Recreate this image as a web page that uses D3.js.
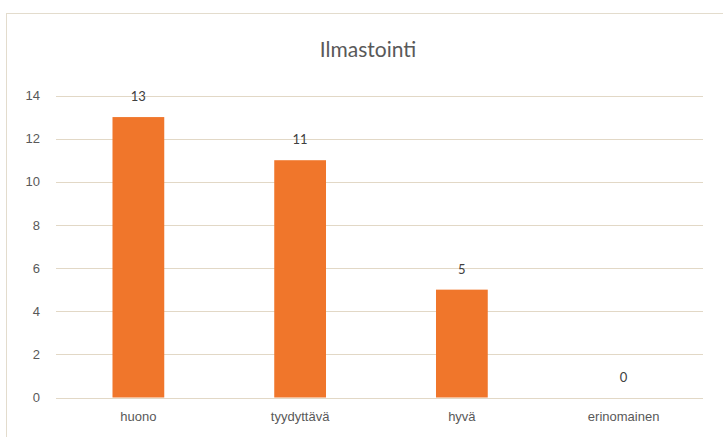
<!DOCTYPE html>
<html>
<head>
<meta charset="utf-8">
<script src="https://cdn.jsdelivr.net/npm/d3@7"></script>
<style>
  html, body { margin: 0; padding: 0; background: #fff; }
  svg { display: block; font-family: Lato, "Open Sans", sans-serif; }
</style>
</head>
<body>
<svg id="chart" width="723" height="437"></svg>
<script>
// Survey answers for ventilation
const title = "Ilmastointi";
const categories = ["huono", "tyydyttävä", "hyvä", "erinomainen"];
const values = [13, 11, 5, 0];
const yTicks = [0, 2, 4, 6, 8, 10, 12, 14];

const svg = d3.select("#chart");
const W = 723, H = 437;
const m = { left: 56, right: 20, top: 95.5, bottom: 39.5 };

// outer frame
svg.append("rect")
  .attr("x", 6.5).attr("y", 13.5)
  .attr("width", W - 6).attr("height", H)
  .attr("fill", "#fff").attr("stroke", "#e3dccd").attr("stroke-width", 1);

const x = d3.scaleBand()
  .domain(categories)
  .range([m.left + 1.5, W - m.right + 1.5])
  .paddingInner(0.68).paddingOuter(0.34);

const y = d3.scaleLinear()
  .domain([0, 14])
  .range([H - m.bottom, m.top]);

// horizontal grid lines
svg.append("g")
  .selectAll("line")
  .data(yTicks)
  .join("line")
  .attr("x1", m.left).attr("x2", W - m.right)
  .attr("y1", d => Math.round(y(d)) + 0.5)
  .attr("y2", d => Math.round(y(d)) + 0.5)
  .attr("stroke", "#e2d8c6").attr("stroke-width", 1.2);

// y axis labels
const yAxis = d3.axisLeft(y).tickValues(yTicks).tickSize(0).tickPadding(16);
svg.append("g")
  .attr("transform", `translate(${m.left},0)`)
  .call(yAxis)
  .call(g => g.select(".domain").remove())
  .call(g => g.selectAll("text")
    .attr("fill", "#595959").attr("font-size", 13));

// x axis labels
const xAxis = d3.axisBottom(x).tickSize(0).tickPadding(14);
svg.append("g")
  .attr("transform", `translate(0,${y(0)})`)
  .call(xAxis)
  .call(g => g.select(".domain").remove())
  .call(g => g.selectAll("text")
    .attr("fill", "#595959").attr("font-size", 13));

// bars
svg.append("g")
  .selectAll("rect")
  .data(values)
  .join("rect")
  .attr("x", (d, i) => x(categories[i]))
  .attr("width", x.bandwidth())
  .attr("y", d => y(d))
  .attr("height", d => y(0) - y(d))
  .attr("fill", "#f0762b");

// value labels
svg.append("g")
  .selectAll("text")
  .data(values)
  .join("text")
  .attr("x", (d, i) => x(categories[i]) + x.bandwidth() / 2)
  .attr("y", d => y(d) - 16)
  .attr("text-anchor", "middle")
  .attr("fill", "#404040")
  .attr("font-size", 13)
  .text(d => d);

// title
svg.append("text")
  .attr("x", 368).attr("y", 57)
  .attr("text-anchor", "middle")
  .attr("fill", "#595959")
  .attr("font-size", 21)
  .text(title);
</script>
</body>
</html>
